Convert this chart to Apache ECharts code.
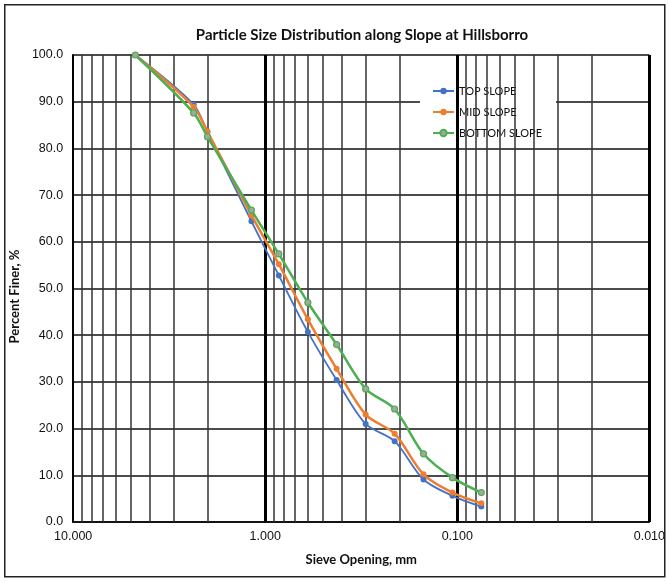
<!DOCTYPE html>
<html>
<head>
<meta charset="utf-8">
<script src="https://cdn.jsdelivr.net/npm/echarts@6/dist/echarts.min.js"></script>
<style>
html,body{margin:0;padding:0;background:#fff;}
#chart{width:668px;height:581px;}
</style>
</head>
<body>
<div id="chart"></div>
<script>
// Sieve openings (mm)
var sieveSizes = [4.75, 2.36, 2.0, 1.18, 0.85, 0.6, 0.425, 0.3, 0.212, 0.15, 0.106, 0.075];
// Percent finer
var topSlope    = [100, 89.4, 83.5, 64.4, 52.8, 40.7, 30.4, 21.0, 17.3, 9.1, 5.6, 3.3];
var midSlope    = [100, 88.9, 83.6, 65.7, 55.2, 43.4, 32.8, 23.0, 18.9, 10.2, 6.3, 4.0];
var bottomSlope = [100, 87.6, 82.5, 66.8, 57.4, 47.0, 38.0, 28.5, 24.2, 14.6, 9.5, 6.3];
var seriesNames = ['TOP SLOPE', 'MID SLOPE', 'BOTTOM SLOPE'];
var titleText = 'Particle Size Distribution along Slope at Hillsborro';
var xName = 'Sieve Opening, mm';
var yName = 'Percent Finer, %';
var decades = [0.01, 0.1, 1];

function pairs(vals){ return sieveSizes.map(function(s,i){ return [s, vals[i]]; }); }

var minorLines = [];
decades.forEach(function(d){
  for (var k = 2; k <= 9; k++) minorLines.push({xAxis: +(k*d).toPrecision(3)});
});
var majorLines = [{xAxis: 0.1}, {xAxis: 1}, {xAxis: 0.01}];

var chart = echarts.init(document.getElementById('chart'));
var font = 'Lato, "Open Sans", sans-serif';
var numFont = '"Liberation Sans", Arial, sans-serif';
chart.setOption({
  animation: false,
  backgroundColor: '#fff',
  graphic: [
    {
      type: 'rect', left: 4, top: 4, z: -10,
      shape: {width: 660, height: 572},
      style: {fill: '#fff', stroke: '#222', lineWidth: 1.5}
    },
    {
      type: 'text', x: 362, y: 35, z: 10,
      style: {
        text: titleText, textAlign: 'center', textVerticalAlign: 'middle',
        font: 'bold 15px Lato, "Open Sans", sans-serif', fill: '#111'
      }
    }
  ],
  legend: {
    orient: 'vertical', left: 420, top: 79,
    padding: [5, 14, 5, 12],
    backgroundColor: '#fff',
    itemWidth: 21, itemHeight: 8, itemGap: 7,
    textStyle: {fontFamily: font, fontSize: 11, color: '#111', lineHeight: 14},
    data: seriesNames
  },
  grid: {left: 72, right: 16, top: 55, bottom: 59, containLabel: false},
  xAxis: {
    type: 'log', logBase: 10, inverse: true, min: 0.01, max: 10,
    name: xName, nameLocation: 'middle', nameGap: 31,
    nameTextStyle: {fontFamily: font, fontSize: 13, fontWeight: 'bold', color: '#111'},
    axisLine: {show: true, lineStyle: {color: '#000', width: 1.5}},
    axisTick: {show: false},
    splitLine: {show: false},
    axisLabel: {
      margin: 8, color: '#111', fontFamily: numFont, fontSize: 12.5,
      showMinLabel: true, showMaxLabel: true,
      formatter: function(v){ return Number(v).toFixed(3); }
    }
  },
  yAxis: {
    type: 'value', min: 0, max: 100, interval: 10,
    name: yName, nameLocation: 'middle', nameGap: 44,
    nameTextStyle: {fontFamily: font, fontSize: 13, fontWeight: 'bold', color: '#111', padding: [0, 16, 0, 0]},
    axisLine: {show: true, lineStyle: {color: '#000', width: 2}},
    axisTick: {show: false},
    splitLine: {show: true, lineStyle: {color: '#111', width: 1.5}},
    axisLabel: {
      margin: 10, color: '#111', fontFamily: numFont, fontSize: 12.5,
      formatter: function(v){ return v.toFixed(1); }
    }
  },
  series: [
    {
      name: seriesNames[0], type: 'line', data: pairs(topSlope), smooth: 0.3,
      symbol: 'circle', symbolSize: 6, z: 5,
      lineStyle: {color: '#4472C4', width: 1.8},
      itemStyle: {color: '#4472C4'},
      markLine: {
        silent: true, symbol: 'none', label: {show: false}, animation: false,
        lineStyle: {color: '#333', width: 1.5, type: 'solid'},
        data: minorLines
      }
    },
    {
      name: seriesNames[1], type: 'line', data: pairs(midSlope), smooth: 0.3,
      symbol: 'circle', symbolSize: 6, z: 6,
      lineStyle: {color: '#ED7D31', width: 2.5},
      itemStyle: {color: '#ED7D31'},
      markLine: {
        silent: true, symbol: 'none', label: {show: false}, animation: false,
        lineStyle: {color: '#000', width: 3, type: 'solid'},
        data: majorLines
      }
    },
    {
      name: seriesNames[2], type: 'line', data: pairs(bottomSlope), smooth: 0.3,
      symbol: 'circle', symbolSize: 6, z: 7,
      lineStyle: {color: '#4CAF50', width: 2.5},
      itemStyle: {color: '#A5A5A5', borderColor: '#4CAF50', borderWidth: 1.2}
    }
  ]
});
</script>
</body>
</html>
